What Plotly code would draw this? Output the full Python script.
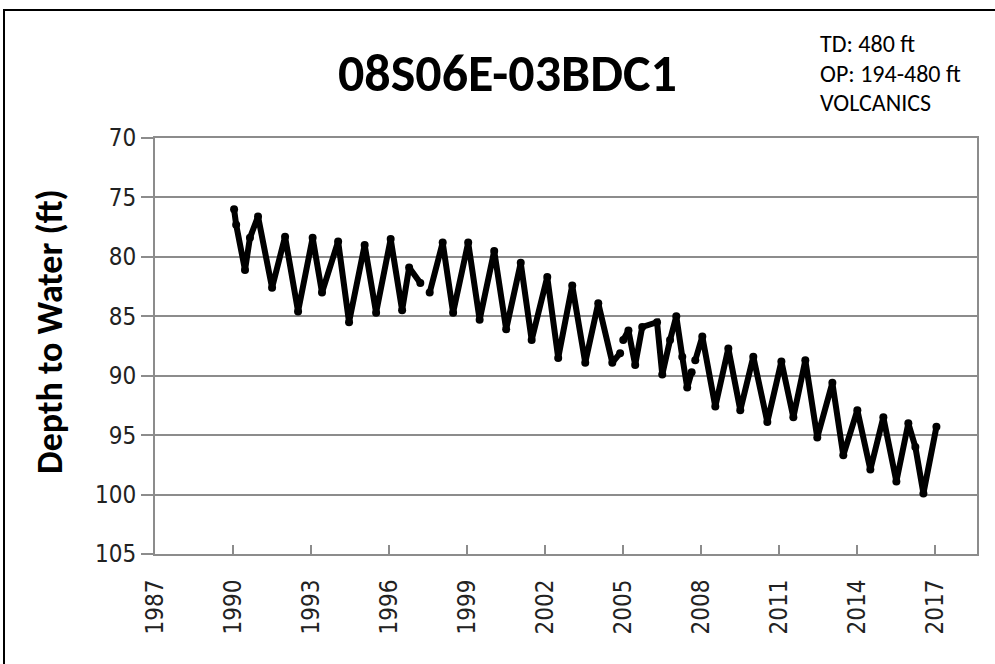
import plotly.graph_objects as go

# ---- data (decimal year, depth to water in ft); None = gap ----
years = [
    1990.04, 1990.12, 1990.46, 1990.65, 1990.96, 1991.50, 1992.00, 1992.50, 1993.06, 1993.42,
    1994.04, 1994.46, 1995.06, 1995.50, 1996.06, 1996.50, 1996.77, 1997.20,
    None,
    1997.56, 1998.06, 1998.46, 1999.04, 1999.48, 2000.04, 2000.50, 2001.06, 2001.48, 2002.08,
    2002.50, 2003.04, 2003.54, 2004.04, 2004.58, 2004.88,
    None,
    2005.00, 2005.20, 2005.46, 2005.73, 2006.30, 2006.50, 2006.80, 2007.04, 2007.27, 2007.46, 2007.63,
    None,
    2007.77, 2008.04, 2008.54, 2009.04, 2009.50, 2010.00, 2010.54, 2011.08, 2011.54, 2012.00,
    2012.46, 2013.04, 2013.46, 2014.00, 2014.50, 2015.00, 2015.50, 2015.96, 2016.23, 2016.54, 2017.04,
]
depths = [
    76.0, 77.3, 81.1, 78.4, 76.6, 82.6, 78.3, 84.6, 78.4, 83.0,
    78.7, 85.5, 79.0, 84.7, 78.5, 84.5, 80.9, 82.2,
    None,
    83.0, 78.8, 84.7, 78.8, 85.3, 79.5, 86.1, 80.5, 87.0, 81.7,
    88.5, 82.4, 88.9, 83.9, 88.9, 88.1,
    None,
    87.0, 86.2, 89.1, 85.9, 85.5, 89.9, 87.0, 85.0, 88.4, 91.0, 89.7,
    None,
    88.7, 86.7, 92.6, 87.7, 92.9, 88.4, 93.9, 88.8, 93.5, 88.7,
    95.2, 90.6, 96.7, 92.9, 97.9, 93.5, 98.9, 94.0, 96.0, 99.9, 94.3,
]

x_ticks = [1987, 1990, 1993, 1996, 1999, 2002, 2005, 2008, 2011, 2014, 2017]
y_ticks = [70, 75, 80, 85, 90, 95, 100, 105]

title_text = "08S06E-03BDC1"
info_lines = ["TD: 480 ft", "OP: 194-480 ft", "VOLCANICS"]
y_title = "Depth to Water (ft)"

NARROW = "Carlito, Liberation Sans Narrow, Lato, sans-serif"
TICKF = "DejaVu Sans Condensed, DejaVu Sans, sans-serif"
GRID = "#8c8c8c"

fig = go.Figure()
fig.add_trace(go.Scatter(
    x=years, y=depths, mode="lines+markers",
    line=dict(color="black", width=6),
    marker=dict(color="black", size=8),
    connectgaps=False, showlegend=False,
))

W, H = 995, 664
L, R, T, B = 155, 18, 138, 110
pw, ph = W - L - R, H - T - B

def px(x):
    return (x - L) / pw

def py(y):
    return (H - B - y) / ph

fig.update_layout(
    width=W, height=H,
    margin=dict(l=L, r=R, t=T, b=B),
    paper_bgcolor="white", plot_bgcolor="white",
    xaxis=dict(
        range=[1987, 2018.6], tickvals=x_ticks, ticktext=[str(v) for v in x_ticks],
        tickangle=-90, ticks="inside", ticklen=9, tickwidth=2, tickcolor=GRID,
        showgrid=False, zeroline=False, showline=True, linecolor=GRID, linewidth=2,
        mirror=True, ticklabelstandoff=14,
        tickfont=dict(family=TICKF, size=24, color="#222"),
    ),
    yaxis=dict(
        range=[105, 70], tickvals=y_ticks, ticks="outside", ticklen=12, tickwidth=2,
        tickcolor=GRID, showgrid=True, gridcolor=GRID, gridwidth=2, zeroline=False,
        showline=True, linecolor=GRID, linewidth=2, mirror=True,
        tickfont=dict(family=TICKF, size=24, color="#222"),
    ),
    shapes=[dict(
        type="rect", xref="paper", yref="paper",
        x0=px(4), x1=px(1010), y0=py(680), y1=py(10),
        line=dict(color="black", width=2), fillcolor="rgba(0,0,0,0)", layer="below",
    )],
)

annotations = [
    dict(text=title_text, x=px(507), y=py(73), xref="paper", yref="paper",
         xanchor="center", yanchor="middle", showarrow=False,
         font=dict(family=NARROW, size=52, color="black", weight="bold")),
    dict(text=y_title, x=px(50), y=py(331), xref="paper", yref="paper",
         xanchor="center", yanchor="middle", showarrow=False, textangle=-90,
         font=dict(family=NARROW, size=36, color="black", weight="bold")),
]
for line, yy in zip(info_lines, [44, 73, 103]):
    annotations.append(dict(text=line, x=px(818), y=py(yy), xref="paper", yref="paper",
                            xanchor="left", yanchor="middle", showarrow=False,
                            font=dict(family=NARROW, size=24, color="black")))
fig.update_layout(annotations=annotations)

fig.write_html("out.html")
